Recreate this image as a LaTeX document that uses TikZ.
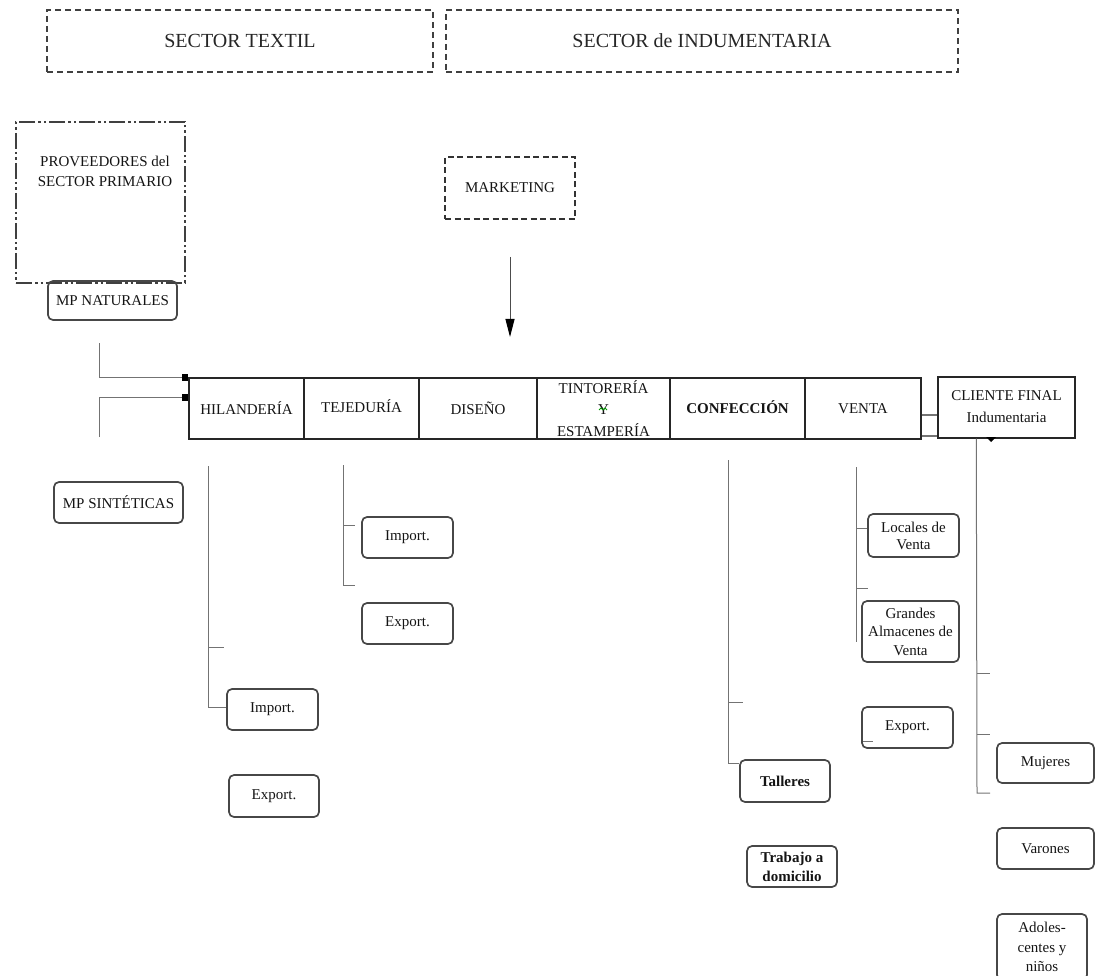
\documentclass[tikz,border=0pt]{standalone}
\usepackage{fontspec}
\setmainfont{Liberation Serif}
\usetikzlibrary{arrows.meta}
\begin{document}
\begin{tikzpicture}[x=1pt,y=-1pt,
  txt/.style={font=\fontsize{15}{20}\selectfont, text=black!92, align=center, inner sep=0pt},
  sector/.style={draw=black!75, line width=1.2pt, dash pattern=on 6pt off 4pt, inner sep=0pt, font=\fontsize{20}{24}\selectfont, text=black!85},
  mktbox/.style={draw=black!80, line width=1.8pt, dash pattern=on 6pt off 3.5pt, inner sep=0pt, txt},
  provbox/.style={draw=black!75, line width=1.8pt, dash pattern=on 16pt off 3pt on 2.5pt off 3pt on 2.5pt off 3pt, inner sep=0pt},
  rbox/.style={draw=black!72, line width=1.7pt, rounded corners=5pt, txt},
  cell/.style={draw=black!85, line width=1.4pt, txt},
  ln/.style={draw=black!55, line width=1pt},
  tip/.style={-{Square[length=6.5pt,width=7.5pt,color=black]}}
]
\useasboundingbox (0,0) rectangle (1103,976);

% sector headers
\node[sector, minimum width=386pt, minimum height=62pt] (textil) at (240,41) {SECTOR TEXTIL};
\node[sector, minimum width=512pt, minimum height=62pt] (indum) at (702,41) {SECTOR de INDUMENTARIA};

% proveedores
\node[provbox, minimum width=169pt, minimum height=161pt] (prov) at (100.5,202.5) {};
\node[txt] (provt) at (105,171) {PROVEEDORES del\\SECTOR PRIMARIO};

% marketing
\node[mktbox, minimum width=130pt, minimum height=62pt] (mkt) at (510,188) {MARKETING};

% raw materials
\node[rbox, minimum width=129pt, minimum height=39pt] (mpn) at (112.5,300.5) {MP NATURALES};
\node[rbox, minimum width=129pt, minimum height=41pt] (mps) at (118.5,502.5) {MP SINTÉTICAS};

% main chain
\node[cell, minimum width=115pt, minimum height=61pt] (hil) at (246.5,408.5) {HILANDERÍA};
\node[cell, minimum width=115pt, minimum height=61pt] (tej) at (361.5,408.5) {\raisebox{4pt}{TEJEDURÍA}};
\node[cell, minimum width=118pt, minimum height=61pt] (dis) at (478,408.5) {DISEÑO};
\node[cell, minimum width=133pt, minimum height=61pt, font=\fontsize{15}{21.5}\selectfont] (tin) at (603.5,408.5) {TINTORERÍA\\Y\\ESTAMPERÍA};
\node[cell, minimum width=135pt, minimum height=61pt, font=\fontsize{15}{20}\bfseries] (con) at (737.5,408.5) {\raisebox{2pt}{CONFECCIÓN}};
\node[cell, minimum width=116pt, minimum height=61pt] (ven) at (863,408.5) {VENTA};
\node[cell, minimum width=137pt, minimum height=61pt, font=\fontsize{15}{22}\selectfont] (cli) at (1006.5,407.5) {\raisebox{4pt}{\begin{tabular}{@{}c@{}}CLIENTE FINAL\\Indumentaria\end{tabular}}};

% green spell mark under Y
\draw[green!60!black, line width=0.8pt] (599,410) -- (601,408) -- (603,410) -- (605,408) -- (607,410);

% inputs into hilanderia
\coordinate (n1) at (99,343);
\coordinate (n2) at (99,437);
\coordinate (h2) at ([yshift=-20pt]hil.north west);
\draw[ln, tip] (n1) |- (hil.north west);
\draw[ln, tip] (n2) |- (h2);

% marketing arrow
\coordinate (m1) at (510,257);
\coordinate (m2) at (510,337);
\draw[draw=black!70, line width=1pt, -{Triangle[length=18pt,width=9pt,color=black]}] (m1) -- (m2);

% venta -> cliente
\coordinate (v1) at ([yshift=-6.5pt]ven.east);
\coordinate (v2) at ([yshift=-27.5pt]ven.east);
\draw[ln, line width=1.2pt] (v1) -- (v1 -| cli.west);
\draw[ln, line width=1.2pt] (v2) -- (v2 -| cli.west);
\fill[black] (986,437) -- (996,437) -- (991,442) -- cycle;

% hilanderia branches
\node[rbox, minimum width=91pt, minimum height=41pt] (imp1) at (272.5,709.5) {Import.};
\node[rbox, minimum width=90pt, minimum height=42pt] (exp1) at (274,796) {Export.};
\coordinate (a1) at (208,466);
\coordinate (a2) at (208,707);
\coordinate (a3) at (208,647);
\coordinate (a4) at (224,647);
\draw[ln] (a1) -- (a2) -- (a2 -| imp1.west);
\draw[ln] (a3) -- (a4);

% tejeduria branches
\node[rbox, minimum width=91pt, minimum height=41pt] (imp2) at (407.5,537.5) {Import.};
\node[rbox, minimum width=91pt, minimum height=41pt] (exp2) at (407.5,623.5) {Export.};
\coordinate (b1) at (343,465);
\coordinate (b2) at (343,585);
\coordinate (b3) at (355,585);
\coordinate (b4) at (343,525);
\coordinate (b5) at (355,525);
\draw[ln] (b1) -- (b2) -- (b3);
\draw[ln] (b4) -- (b5);

% confeccion branches
\node[rbox, minimum width=90pt, minimum height=42pt, font=\fontsize{15}{19}\bfseries] (tal) at (785,781) {Talleres};
\node[rbox, minimum width=90pt, minimum height=41pt, font=\fontsize{15}{19}\bfseries] (tra) at (792,866.5) {Trabajo a\\domicilio};
\coordinate (c1) at (728,460);
\coordinate (c2) at (728,763);
\coordinate (c3) at (728,702);
\coordinate (c4) at (743,702);
\draw[ln] (c1) -- (c2) -- (c2 -| tal.west);
\draw[ln] (c3) -- (c4);

% venta branches
\node[rbox, minimum width=91pt, minimum height=43pt, font=\fontsize{15}{17}\selectfont] (loc) at (913.5,535.5) {Locales de\\Venta};
\node[rbox, minimum width=97pt, minimum height=61pt, font=\fontsize{15}{18.5}\selectfont] (gra) at (910.5,631.5) {Grandes\\Almacenes de\\Venta};
\node[rbox, minimum width=91pt, minimum height=41pt] (exp3) at (907.5,727.5) {Export.};
\coordinate (d1) at (856,467);
\coordinate (d2) at (856,642);
\coordinate (d3) at (856,528);
\coordinate (d4) at (856,588);
\coordinate (d5) at (868,588);
\draw[ln] (d1) -- (d2);
\draw[ln] (d3) -- (d3 -| loc.west);
\draw[ln] (d4) -- (d5);
\coordinate (e1) at (863,741);
\coordinate (e2) at (873,741);
\draw[ln] (e1) -- (e2);

% cliente branches
\node[rbox, minimum width=97pt, minimum height=40pt] (muj) at (1045.5,763) {Mujeres};
\node[rbox, minimum width=97pt, minimum height=41pt] (var) at (1045.5,848.5) {Varones};
\node[rbox, minimum width=90pt, minimum height=66pt, font=\fontsize{15}{19.5}\selectfont] (ado) at (1042,947) {Adoles-\\centes y\\niños};
\coordinate (f1) at ([xshift=39pt]cli.south west);
\coordinate (f2) at (977,793);
\coordinate (f3) at (990,793);
\coordinate (f4) at (977,673);
\coordinate (f5) at (990,673);
\coordinate (f6) at (977,734);
\coordinate (f7) at (990,734);
\draw[ln] (f1) -- (f2) -- (f3);
\draw[ln] (f4) -- (f5);
\draw[ln] (f6) -- (f7);
\end{tikzpicture}
\end{document}
